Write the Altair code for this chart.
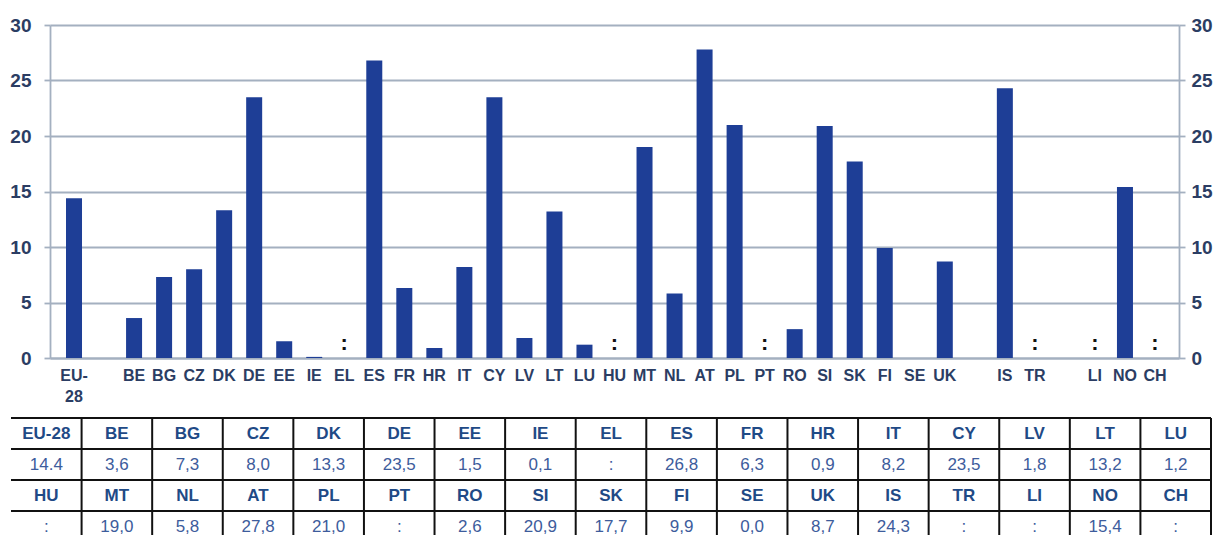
import altair as alt
import pandas as pd

# ---------------- data ----------------
categories = ["EU-28", "_g1", "BE", "BG", "CZ", "DK", "DE", "EE", "IE", "EL", "ES",
              "FR", "HR", "IT", "CY", "LV", "LT", "LU", "HU", "MT", "NL", "AT", "PL",
              "PT", "RO", "SI", "SK", "FI", "SE", "UK", "_g2", "IS", "TR", "_g3",
              "LI", "NO", "CH"]
values = [14.4, None, 3.6, 7.3, 8.0, 13.3, 23.5, 1.5, 0.1, None, 26.8,
          6.3, 0.9, 8.2, 23.5, 1.8, 13.2, 1.2, None, 19.0, 5.8, 27.8, 21.0,
          None, 2.6, 20.9, 17.7, 9.9, 0.0, 8.7, None, 24.3, None, None,
          None, 15.4, None]
missing = ["EL", "HU", "PT", "TR", "LI", "CH"]

y_ticks = [0, 5, 10, 15, 20, 25, 30]

table_head_1 = ["EU-28", "BE", "BG", "CZ", "DK", "DE", "EE", "IE", "EL", "ES",
                "FR", "HR", "IT", "CY", "LV", "LT", "LU"]
table_vals_1 = ["14.4", "3,6", "7,3", "8,0", "13,3", "23,5", "1,5", "0,1", ":",
                "26,8", "6,3", "0,9", "8,2", "23,5", "1,8", "13,2", "1,2"]
table_head_2 = ["HU", "MT", "NL", "AT", "PL", "PT", "RO", "SI", "SK", "FI",
                "SE", "UK", "IS", "TR", "LI", "NO", "CH"]
table_vals_2 = [":", "19,0", "5,8", "27,8", "21,0", ":", "2,6", "20,9", "17,7",
                "9,9", "0,0", "8,7", "24,3", ":", ":", "15,4", ":"]

# ---------------- styles ----------------
FONT = "Liberation Sans, Arial, sans-serif"
BAR = "#1e3e96"
GRID = "#a4b0c0"
LAB = "#2b3d63"

bars_df = pd.DataFrame({"cat": categories, "value": values})
miss_df = pd.DataFrame({"cat": missing, "zero": [0] * len(missing)})

x_enc = alt.X(
    "cat:N",
    scale=alt.Scale(domain=categories, paddingInner=0.467, paddingOuter=0.533),
    axis=alt.Axis(
        title=None, orient="bottom", ticks=False, labelAngle=0,
        labelExpr="datum.label == 'EU-28' ? ['EU-', '28'] : (indexof(datum.label, '_') == 0 ? '' : datum.label)",
        labelFont=FONT, labelFontSize=16, labelFontWeight="bold", labelColor=LAB,
        labelLineHeight=21, labelPadding=9, labelOverlap=False, labelBound=False,
        domainColor=GRID, domainWidth=1.8,
    ),
)

y_scale = alt.Scale(domain=[0, 30], nice=False, zero=True)

bars = alt.Chart(bars_df).transform_filter("isValid(datum.value)").mark_bar(
    color=BAR
).encode(
    x=x_enc,
    y=alt.Y(
        "value:Q", scale=y_scale,
        axis=alt.Axis(
            title=None, orient="left", values=y_ticks, grid=True,
            gridColor=GRID, gridWidth=1.8, domainColor=GRID, domainWidth=1.8,
            tickColor=GRID, tickWidth=1.8, tickSize=6, labelPadding=13,
            labelFont=FONT, labelFontSize=19, labelFontWeight="bold",
            labelColor=LAB,
        ),
    ),
)

colons = alt.Chart(miss_df).mark_text(
    text=":", fontSize=22, fontWeight="bold", color="#111111",
    baseline="bottom", dy=-3,
).encode(
    x=x_enc,
    y=alt.Y(
        "zero:Q", scale=y_scale,
        axis=alt.Axis(
            title=None, orient="right", values=y_ticks, grid=False,
            domainColor=GRID, domainWidth=1.8, tickColor=GRID, tickWidth=1.8,
            tickSize=6, labelPadding=6, labelFont=FONT, labelFontSize=19,
            labelFontWeight="bold", labelColor=LAB,
        ),
    ),
)

top = alt.layer(bars, colons).resolve_axis(y="independent").properties(
    width=1129, height=333
)

# ---------------- table ----------------
rows = []
for i, (h, v) in enumerate(zip(table_head_1, table_vals_1)):
    rows.append({"col": i, "row": 0, "text": h, "kind": "head"})
    rows.append({"col": i, "row": 1, "text": v, "kind": "val"})
for i, (h, v) in enumerate(zip(table_head_2, table_vals_2)):
    rows.append({"col": i, "row": 2, "text": h, "kind": "head"})
    rows.append({"col": i, "row": 3, "text": v, "kind": "val"})
table_df = pd.DataFrame(rows)

OFF = 39          # table starts left of the plot origin, under the y labels
TW = 1200
ROWH = 31
TH = 117
col_scale = alt.Scale(paddingInner=0, paddingOuter=0, range=[-OFF, TW - OFF])
row_scale = alt.Scale(domain=[0, TH / ROWH], reverse=True, nice=False, zero=True)

tbase = alt.Chart(table_df).transform_calculate(mid="datum.row + 0.5")

head_text = tbase.transform_filter("datum.kind == 'head'").mark_text(
    font=FONT, fontSize=17, fontWeight="bold", color="#1f4a86"
).encode(
    x=alt.X("col:O", scale=col_scale, axis=None),
    y=alt.Y("mid:Q", scale=row_scale, axis=None),
    text="text:N",
)

val_text = tbase.transform_filter("datum.kind == 'val'").mark_text(
    font=FONT, fontSize=17, color="#3d5c9c"
).encode(
    x=alt.X("col:O", scale=col_scale, axis=None),
    y=alt.Y("mid:Q", scale=row_scale, axis=None),
    text="text:N",
)

hlines = tbase.transform_filter("datum.col == 0").mark_rule(
    color="#111111", strokeWidth=2
).encode(
    y=alt.Y("row:Q", scale=row_scale, axis=None),
    x=alt.value(-OFF), x2=alt.value(TW - OFF),
)

vlines = tbase.transform_filter("datum.row == 0 && datum.col > 0").mark_rule(
    color="#111111", strokeWidth=2
).encode(
    x=alt.X("col:O", scale=col_scale, axis=None, bandPosition=0),
    y=alt.value(0), y2=alt.value(TH),
)

vlast = tbase.transform_filter("datum.row == 0 && datum.col == 16").mark_rule(
    color="#111111", strokeWidth=2
).encode(
    x=alt.X("col:O", scale=col_scale, axis=None, bandPosition=1),
    y=alt.value(0), y2=alt.value(TH),
)

table = alt.layer(hlines, vlines, vlast, head_text, val_text).properties(
    width=TW - 2 * OFF, height=TH
)

chart = alt.vconcat(top, table, spacing=13).properties(
    padding={"left": 1, "top": 8, "right": 0, "bottom": 0},
    background="white",
).configure_view(stroke=None)

chart.save("out.html", embed_options={"renderer": "svg", "actions": False})
